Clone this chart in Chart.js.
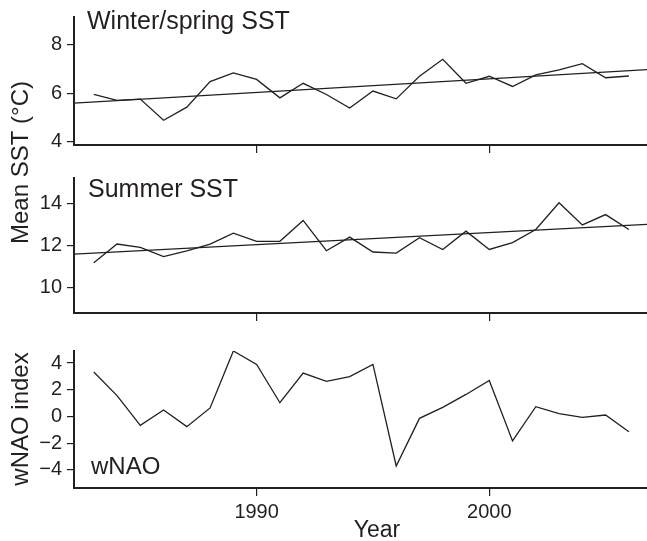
<!DOCTYPE html>
<html>
<head>
<meta charset="utf-8">
<script src="https://cdn.jsdelivr.net/npm/chart.js@4.4.0/dist/chart.umd.min.js"></script>
<style>
  html, body { margin: 0; padding: 0; background: #fff; }
  #wrap { position: relative; width: 647px; height: 541px; overflow: hidden; }
  canvas { position: absolute; left: 0; }
</style>
</head>
<body>
<div id="wrap">
  <canvas id="cA" width="647" height="330" style="top:0px"></canvas>
  <canvas id="cB" width="647" height="170" style="top:160px"></canvas>
  <canvas id="cC" width="647" height="211" style="top:330px"></canvas>
</div>
<script>
// ---- Data ----
const years = [1983,1984,1985,1986,1987,1988,1989,1990,1991,1992,1993,1994,
               1995,1996,1997,1998,1999,2000,2001,2002,2003,2004,2005,2006];
const winterSST = [5.95,5.71,5.76,4.89,5.43,6.48,6.84,6.57,5.81,6.41,5.95,5.39,
                   6.09,5.77,6.70,7.40,6.41,6.70,6.28,6.76,6.96,7.22,6.64,6.71];
const summerSST = [11.18,12.07,11.91,11.47,11.75,12.07,12.59,12.20,12.20,13.19,11.75,12.40,
                   11.69,11.64,12.37,11.81,12.68,11.81,12.14,12.76,14.03,12.98,13.47,12.76];
const wNAO = [3.33,1.56,-0.66,0.49,-0.76,0.64,4.90,3.90,1.03,3.25,2.63,2.98,
              3.90,-3.70,-0.14,0.68,1.65,2.70,-1.83,0.73,0.21,-0.07,0.11,-1.14];
const trendYears = [1982.15, 2006.78];
const winterTrend = [5.59, 6.97];
const summerTrend = [11.59, 13.00];
const xTickYears = [1990, 2000];
const winterTicks = [4, 6, 8];
const summerTicks = [10, 12, 14];
const naoTicks = [-4, -2, 0, 2, 4];

// ---- Styling ----
const INK = '#231f20';
Chart.defaults.font.family = '"Liberation Sans", Arial, Helvetica, sans-serif';
Chart.defaults.color = INK;

const textPlugin = {
  id: 'panelText',
  afterDraw(chart, args, opts) {
    const ctx = chart.ctx;
    (opts.items || []).forEach(it => {
      ctx.save();
      ctx.fillStyle = INK;
      ctx.font = it.size + 'px ' + Chart.defaults.font.family;
      ctx.textBaseline = 'alphabetic';
      if (it.rotate) {
        ctx.translate(it.x, it.y);
        ctx.rotate(-Math.PI / 2);
        ctx.textAlign = 'center';
        ctx.fillText(it.text, 0, 0);
      } else {
        ctx.textAlign = it.align || 'left';
        ctx.fillText(it.text, it.x, it.y);
      }
      ctx.restore();
    });
  }
};

function pts(xs, ys) { return xs.map((x, i) => ({ x: x, y: ys[i] })); }
function fmt(v) { return v < 0 ? '\u2212' + Math.abs(v) : String(v); }

function makeChart(id, cfg) {
  const datasets = [{
    data: pts(years, cfg.values),
    borderColor: INK, borderWidth: 1.3, pointRadius: 0, tension: 0, fill: false
  }];
  if (cfg.trend) {
    datasets.push({
      data: pts(trendYears, cfg.trend),
      borderColor: INK, borderWidth: 1.3, pointRadius: 0, tension: 0, fill: false
    });
  }
  return new Chart(document.getElementById(id), {
    type: 'line',
    data: { datasets: datasets },
    plugins: [textPlugin],
    options: {
      responsive: false,
      animation: false,
      layout: { padding: { top: cfg.padTop, bottom: cfg.padBottom, left: 0, right: 0 } },
      plugins: {
        legend: { display: false },
        tooltip: { enabled: false },
        panelText: { items: cfg.texts }
      },
      scales: {
        x: {
          type: 'linear',
          min: trendYears[0], max: trendYears[1],
          afterBuildTicks: s => { s.ticks = xTickYears.map(v => ({ value: v })); },
          afterFit: s => { s.height = cfg.xHeight; },
          border: { display: true, color: INK, width: 2 },
          grid: { display: true, drawOnChartArea: false, drawTicks: true, tickLength: 8, color: INK, lineWidth: 1.2 },
          ticks: {
            display: cfg.xLabels, padding: 4, font: { size: 20 }, color: INK,
            maxRotation: 0, autoSkip: false,
            callback: v => String(v)
          },
          title: { display: false }
        },
        y: {
          type: 'linear',
          min: cfg.ymin, max: cfg.ymax,
          afterBuildTicks: s => { s.ticks = cfg.yTicks.map(v => ({ value: v })); },
          afterFit: s => { s.width = 74; },
          border: { display: true, color: INK, width: 2 },
          grid: { display: true, drawOnChartArea: false, drawTicks: true, tickLength: 7, color: INK, lineWidth: 1.2 },
          ticks: { padding: 5, font: { size: 20 }, color: INK, autoSkip: false, callback: v => fmt(v) }
        }
      }
    }
  });
}

makeChart('cA', {
  values: winterSST, trend: winterTrend, ymin: 3.87, ymax: 9.14, yTicks: winterTicks,
  padTop: 10, padBottom: 170, xHeight: 15, xLabels: false,
  texts: [
    { text: 'Winter/spring SST', x: 87, y: 28.5, size: 25 },
    { text: 'Mean SST (\u00B0C)', x: 28, y: 162.5, size: 24, rotate: true }
  ]
});

makeChart('cB', {
  values: summerSST, trend: summerTrend, ymin: 8.79, ymax: 15.21, yTicks: summerTicks,
  padTop: 18, padBottom: 0, xHeight: 14, xLabels: false,
  texts: [
    { text: 'Summer SST', x: 88, y: 36.7, size: 25 }
  ]
});

makeChart('cC', {
  values: wNAO, trend: null, ymin: -5.35, ymax: 4.9, yTicks: naoTicks,
  padTop: 21, padBottom: 0, xHeight: 53, xLabels: true,
  texts: [
    { text: 'wNAO', x: 91, y: 144, size: 24 },
    { text: 'wNAO index', x: 28, y: 89, size: 24, rotate: true },
    { text: 'Year', x: 377, y: 206.5, size: 23, align: 'center' }
  ]
});
</script>
</body>
</html>
